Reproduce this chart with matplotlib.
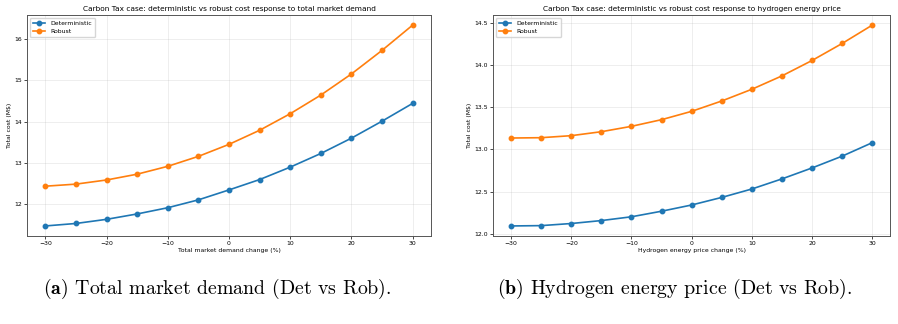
import matplotlib
matplotlib.use("Agg")
import matplotlib.pyplot as plt

x_change = [-30, -25, -20, -15, -10, -5, 0, 5, 10, 15, 20, 25, 30]

demand_det = [11.48, 11.54, 11.64, 11.77, 11.92, 12.11, 12.35, 12.60, 12.90, 13.23, 13.60, 14.01, 14.44]
demand_rob = [12.44, 12.49, 12.59, 12.73, 12.92, 13.16, 13.45, 13.79, 14.19, 14.64, 15.15, 15.72, 16.33]

h2_det = [12.091, 12.095, 12.12, 12.155, 12.20, 12.266, 12.34, 12.43, 12.53, 12.65, 12.78, 12.92, 13.08]
h2_rob = [13.135, 13.139, 13.163, 13.21, 13.274, 13.353, 13.452, 13.575, 13.714, 13.873, 14.056, 14.258, 14.476]

titles = ["Carbon Tax case: deterministic vs robust cost response to total market demand",
          "Carbon Tax case: deterministic vs robust cost response to hydrogen energy price"]
xlabels = ["Total market demand change (%)", "Hydrogen energy price change (%)"]
ylabel = "Total cost (M$)"
captions = [r"$\mathbf{(a)}$ Total market demand (Det vs Rob).",
            r"$\mathbf{(b)}$ Hydrogen energy price (Det vs Rob)."]

plt.rcParams['mathtext.fontset'] = 'cm'

fig = plt.figure(figsize=(8.98, 3.24), dpi=100)
ax1 = fig.add_axes([0.030, 0.2716, 0.450, 0.682])
ax2 = fig.add_axes([0.549, 0.2716, 0.4425, 0.682])

fs_t = 5.3
fs_l = 4.4
for ax, det, rob, title, xl in [(ax1, demand_det, demand_rob, titles[0], xlabels[0]),
                                (ax2, h2_det, h2_rob, titles[1], xlabels[1])]:
    ax.plot(x_change, det, marker='o', color='#1f77b4', lw=1.2, ms=3.2, label='Deterministic')
    ax.plot(x_change, rob, marker='o', color='#ff7f0e', lw=1.2, ms=3.2, label='Robust')
    ax.set_title(title, fontsize=fs_t, pad=3)
    ax.set_xlabel(xl, fontsize=fs_l, labelpad=1.5)
    ax.set_ylabel(ylabel, fontsize=fs_l, labelpad=2)
    ax.tick_params(labelsize=fs_l, length=2, width=0.5, pad=1.5)
    ax.grid(True, alpha=0.3, lw=0.5)
    for s in ax.spines.values():
        s.set_linewidth(0.7)
        s.set_color('#555555')
    ax.legend(loc='upper left', fontsize=fs_l, framealpha=0.8, handlelength=2.0,
              borderpad=0.5, labelspacing=0.4)

ax1.set_xticks([-30, -20, -10, 0, 10, 20, 30])
ax2.set_xticks([-30, -20, -10, 0, 10, 20, 30])
ax1.set_yticks([12, 13, 14, 15, 16])
ax2.set_yticks([12.0, 12.5, 13.0, 13.5, 14.0, 14.5])
ax2.set_yticklabels(['12.0', '12.5', '13.0', '13.5', '14.0', '14.5'])

fig.text(43/898, 1 - 294/324, captions[0], fontsize=14.3, family='cmr10', va='baseline', ha='left')
fig.text(497/898, 1 - 294/324, captions[1], fontsize=14.3, family='cmr10', va='baseline', ha='left')

fig.savefig('out.png', dpi=100)
